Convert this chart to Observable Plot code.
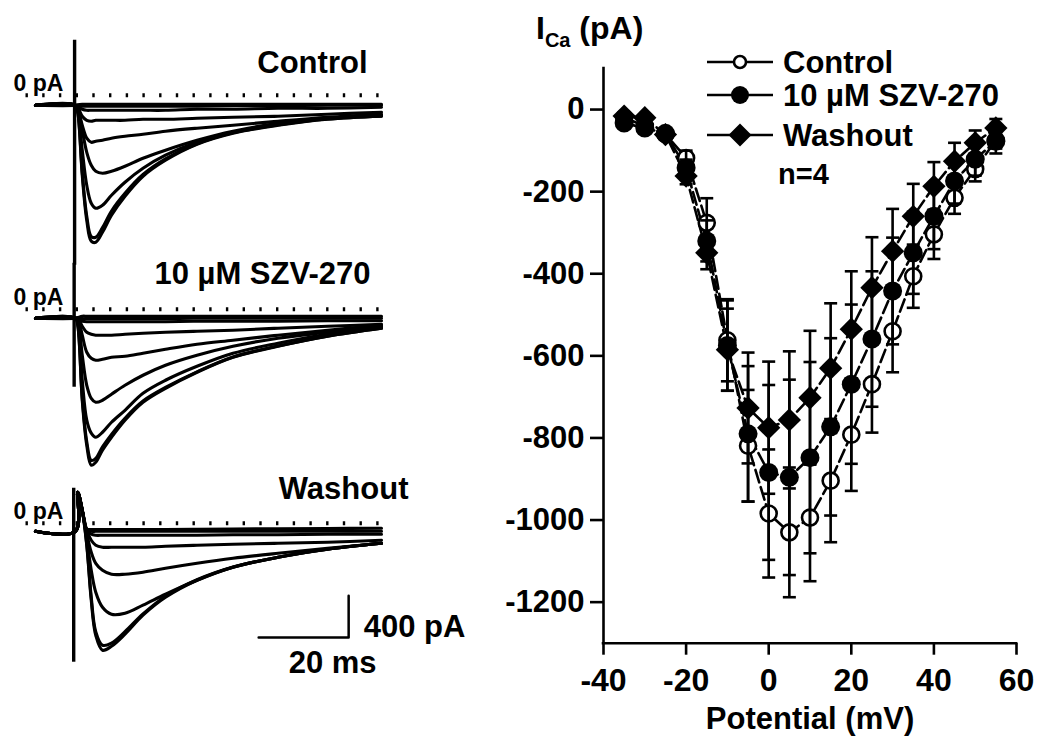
<!DOCTYPE html>
<html><head><meta charset="utf-8">
<script src="https://cdn.jsdelivr.net/npm/d3@7"></script>
<script src="https://cdn.jsdelivr.net/npm/@observablehq/plot@0.6"></script>
<style>
html,body{margin:0;padding:0;background:#fff;}
#fig{position:relative;width:1041px;height:740px;overflow:hidden;font-family:"Liberation Sans",Arial,Helvetica,sans-serif;font-weight:bold;color:#000;background:#fff;}
#left,#right{position:absolute;top:0;}
#left{left:0;} #right{left:480px;}
.lab{position:absolute;white-space:nowrap;line-height:1;font-weight:bold;}
.leg{position:absolute;}
</style></head><body>
<div id="fig">
  <div id="left"></div>
  <div id="right"></div>
  <div id="ytitle" class="lab" style="left:536px;top:12px;font-size:32px">I<span style="font-size:20px;position:relative;top:8px">Ca</span> (pA)</div>
  <div id="legend"></div>
</div>
<script>
// ---------- Left: current traces ----------
const panels = ["Control", "10 µM SZV-270", "Washout"];
const preStepTimes = [-8.9, 0];                  // ms
const traceTimes = [0.5, 1.5, 2.5, 3.5, 4.5, 6, 8, 11, 15, 20, 27, 35, 45, 56, 68]; // ms after step
const holdingCurrent = [-96, -86, -77];          // pA
const artifactTime = [-0.2, -0.3, -0.4];
const artifactTop = [527, 441, 336];
const artifactBottom = [-1630, -748, -1333];

const controlTraces = [
  [-163,-767,-1199,-1400,-1410,-1314,-1151,-969,-777,-623,-470,-364,-288,-230,-201],
  [-160,-740,-1160,-1355,-1362,-1270,-1110,-940,-760,-610,-465,-360,-285,-228,-200],
  [-144,-527,-863,-1036,-1084,-1055,-959,-834,-700,-575,-451,-355,-278,-221,-192],
  [-125,-336,-547,-671,-729,-748,-729,-681,-604,-527,-432,-345,-269,-221,-192],
  [-125,-288,-412,-451,-441,-432,-412,-393,-374,-345,-316,-288,-249,-211,-182],
  [-115,-201,-240,-249,-240,-240,-240,-240,-230,-230,-221,-211,-201,-182,-163],
  [-105,-134,-144,-144,-144,-144,-144,-144,-144,-144,-134,-134,-125,-125,-115],
  [-96,-105,-105,-105,-105,-105,-105,-105,-105,-105,-105,-100,-100,-96,-96],
  [-90,-86,-86,-86,-86,-86,-86,-86,-86,-86,-86,-86,-86,-86,-86]
];
const szvTraces = [
  [-153,-873,-1304,-1496,-1467,-1352,-1228,-1064,-892,-758,-604,-460,-355,-259,-182],
  [-150,-850,-1270,-1450,-1430,-1320,-1200,-1045,-880,-750,-600,-458,-353,-258,-182],
  [-125,-681,-1064,-1189,-1228,-1180,-1084,-969,-806,-681,-547,-422,-326,-240,-173],
  [-105,-441,-729,-854,-892,-873,-815,-729,-633,-537,-441,-355,-278,-221,-163],
  [-86,-249,-412,-470,-489,-479,-460,-451,-422,-384,-336,-297,-249,-201,-153],
  [-86,-163,-221,-240,-249,-249,-249,-240,-230,-221,-211,-201,-182,-163,-144],
  [-100,-115,-120,-120,-120,-120,-120,-120,-120,-120,-115,-115,-115,-110,-110],
  [-86,-90,-90,-90,-90,-90,-90,-90,-90,-90,-86,-86,-86,-86,-86],
  [-80,-67,-67,-67,-67,-67,-67,-67,-67,-67,-67,-67,-67,-67,-67]
];
const washoutTraces = [
  [297,125,-211,-738,-1074,-1218,-1180,-1064,-882,-710,-547,-422,-326,-249,-192],
  [297,125,-200,-710,-1040,-1170,-1150,-1040,-870,-700,-542,-420,-326,-249,-192],
  [297,125,-144,-451,-662,-806,-873,-863,-786,-681,-547,-422,-326,-249,-192],
  [297,125,-96,-278,-384,-451,-489,-489,-470,-432,-384,-336,-288,-240,-192],
  [297,125,-67,-163,-211,-230,-230,-230,-230,-221,-211,-201,-192,-182,-163],
  [297,125,-67,-105,-115,-115,-115,-115,-115,-115,-115,-110,-110,-105,-105],
  [297,125,-60,-77,-77,-77,-77,-77,-77,-77,-77,-77,-77,-77,-77],
  [297,125,-55,-60,-60,-60,-60,-60,-60,-60,-58,-55,-52,-50,-48]
];
const scaleBarTime = 40.7, scaleBarMs = 20, scaleBarCurrent = -1095, scaleBarPA = 400;

const traceSets = [controlTraces, szvTraces, washoutTraces];
const traceRows = traceSets.flatMap((set, p) => set.flatMap((vals, k) => [
  ...preStepTimes.map(t => ({panel: panels[p], id: p * 100 + k, t, i: holdingCurrent[p]})),
  ...traceTimes.map((t, j) => ({panel: panels[p], id: p * 100 + k, t, i: vals[j]}))
]));
const artifactRows = panels.map((panel, p) => ({panel, t: artifactTime[p], top: artifactTop[p], bottom: artifactBottom[p]}));
const scaleRows = [
  {panel: panels[2], t: scaleBarTime, i: scaleBarCurrent},
  {panel: panels[2], t: scaleBarTime + scaleBarMs, i: scaleBarCurrent},
  {panel: panels[2], t: scaleBarTime + scaleBarMs, i: scaleBarCurrent + scaleBarPA}
];
const font = '"Liberation Sans", Arial, Helvetica, sans-serif';

const left = Plot.plot({
  width: 480, height: 740,
  marginLeft: 25.5, marginRight: 90, marginTop: 34, marginBottom: 64,
  x: {domain: [-11, 70], axis: null},
  y: {domain: [-1470, 583], axis: null},
  fy: {domain: panels, axis: null, padding: 0},
  style: {fontFamily: font, fontWeight: "bold", background: "white", overflow: "visible"},
  marks: [
    Plot.ruleY([0], {stroke: "black", strokeWidth: 4, strokeDasharray: "2.4,14.3"}),
    Plot.line(traceRows, {x: "t", y: "i", z: "id", fy: "panel", curve: "catmull-rom", stroke: "black", strokeWidth: 3.1, strokeLinejoin: "round"}),
    Plot.ruleX(artifactRows, {x: "t", y1: "bottom", y2: "top", fy: "panel", stroke: "black", strokeWidth: 3.4}),
    Plot.line(scaleRows, {x: "t", y: "i", fy: "panel", stroke: "black", strokeWidth: 2.5}),
    Plot.text(panels, {fy: d => d, y: 0, text: () => "0 pA", frameAnchor: "left", textAnchor: "start", lineAnchor: "bottom", dx: -12.5, dy: -4, fontSize: 23}),
    Plot.text([panels[0]], {fy: d => d, text: d => d, frameAnchor: "top-right", textAnchor: "end", lineAnchor: "bottom", dx: -23, dy: 38, fontSize: 31}),
    Plot.text([panels[1]], {fy: d => d, text: d => d, frameAnchor: "top-right", textAnchor: "end", lineAnchor: "bottom", dx: -20, dy: 35, fontSize: 31}),
    Plot.text([panels[2]], {fy: d => d, text: d => d, frameAnchor: "top-right", textAnchor: "end", lineAnchor: "bottom", dx: 18, dy: 36, fontSize: 31}),
    Plot.text([scaleRows[1]], {fy: "panel", x: "t", y: "i", text: () => scaleBarPA + " pA", textAnchor: "start", lineAnchor: "bottom", dx: 15, fontSize: 31}),
    Plot.text([scaleRows[0]], {fy: "panel", x: d => d.t + scaleBarMs / 2, y: "i", text: () => scaleBarMs + " ms", textAnchor: "middle", lineAnchor: "bottom", dx: 29, dy: 36, fontSize: 31})
  ]
});
document.getElementById("left").appendChild(left);

// ---------- Right: I-V relationship ----------
const potentials = [-35,-30,-25,-20,-15,-10,-5,0,5,10,15,20,25,30,35,40,45,50,55]; // mV
const controlMean = [-20,-40,-60,-118,-276,-562,-819,-984,-1030,-994,-904,-792,-669,-540,-406,-304,-215,-145,-75];
const controlSem  = [8,10,12,18,60,100,136,156,158,155,150,137,118,100,77,60,39,30,20];
const szvMean = [-33,-45,-58,-142,-320,-575,-790,-884,-896,-848,-773,-669,-559,-442,-349,-260,-174,-121,-77];
const szvSem  = [8,10,10,20,50,110,165,213,238,233,216,194,165,130,100,80,55,40,30];
const washMean = [-16,-20,-61,-162,-349,-585,-727,-775,-756,-702,-630,-535,-434,-345,-260,-187,-126,-81,-45];
const washSem  = [6,8,10,20,40,100,135,161,167,163,158,141,123,103,79,59,45,30,22];
const seriesNames = ["Control", "10 µM SZV-270", "Washout"];
const xDomain = [-40, 60], yDomain = [-1300, 100];
const xTicks = [-40, -20, 0, 20, 40, 60];
const yTicks = [-1200, -1000, -800, -600, -400, -200, 0];

const means = [controlMean, szvMean, washMean], sems = [controlSem, szvSem, washSem];
const ivRows = seriesNames.flatMap((s, k) => potentials.map((v, j) => ({series: s, v, mean: means[k][j], sem: sems[k][j]})));
const ofSeries = k => ivRows.filter(d => d.series === seriesNames[k]);
const capSymbol = {draw(ctx, size) { const w = Math.sqrt(size / Math.PI); ctx.moveTo(-w, 0); ctx.lineTo(w, 0); }};

const right = Plot.plot({
  width: 561, height: 740,
  marginLeft: 123, marginRight: 25, marginTop: 68, marginBottom: 97.3,
  x: {domain: xDomain},
  y: {domain: yDomain},
  style: {fontFamily: font, fontWeight: "bold", background: "white", overflow: "visible"},
  marks: [
    Plot.ruleX([xDomain[0]], {stroke: "black", strokeWidth: 2.6, strokeLinecap: "square"}),
    Plot.ruleY([yDomain[0]], {stroke: "black", strokeWidth: 2.6, strokeLinecap: "square"}),
    Plot.axisX({ticks: xTicks, tickSize: 12, tickPadding: 13, strokeWidth: 2.6, fontSize: 32, fontWeight: "bold", tickFormat: d => String(d), label: null}),
    Plot.axisY({ticks: yTicks, tickSize: 13, tickPadding: 6, strokeWidth: 2.6, fontSize: 31, fontWeight: "bold", tickFormat: d => String(d), label: null}),
    Plot.text(["Potential (mV)"], {frameAnchor: "bottom", lineAnchor: "bottom", dy: 86, fontSize: 31}),
    Plot.line(ivRows, {x: "v", y: "mean", z: "series", stroke: "black", strokeWidth: 2.6, strokeDasharray: "13,5"}),
    Plot.dot(ofSeries(0), {x: "v", y: "mean", r: 8, fill: "white", stroke: "black", strokeWidth: 2.6}),
    Plot.ruleX(ivRows, {x: "v", y1: d => d.mean - d.sem, y2: d => d.mean + d.sem, stroke: "black", strokeWidth: 2.6}),
    Plot.dot(ivRows, {x: "v", y: d => d.mean - d.sem, symbol: capSymbol, r: 6.5, fill: "none", stroke: "black", strokeWidth: 2.6}),
    Plot.dot(ivRows, {x: "v", y: d => d.mean + d.sem, symbol: capSymbol, r: 6.5, fill: "none", stroke: "black", strokeWidth: 2.6}),
    Plot.dot(ofSeries(1), {x: "v", y: "mean", r: 9.5, fill: "black", stroke: "none"}),
    Plot.dot(ofSeries(2), {x: "v", y: "mean", r: 10.5, symbol: "diamond2", fill: "black", stroke: "none"})
  ]
});
document.getElementById("right").appendChild(right);

// ---------- Legend ----------
const legendRows = [
  {name: seriesNames[0], y: 62, kind: "open"},
  {name: seriesNames[1], y: 95, kind: "filled"},
  {name: seriesNames[2], y: 135, kind: "diamond"}
];
const legend = document.getElementById("legend");
const ns = "http://www.w3.org/2000/svg";
for (const row of legendRows) {
  const svg = document.createElementNS(ns, "svg");
  svg.setAttribute("width", 70); svg.setAttribute("height", 30);
  svg.setAttribute("class", "leg");
  svg.style.left = "705px"; svg.style.top = (row.y - 15) + "px";
  const ln = document.createElementNS(ns, "line");
  ln.setAttribute("x1", 2); ln.setAttribute("x2", 68); ln.setAttribute("y1", 15); ln.setAttribute("y2", 15);
  ln.setAttribute("stroke", "black"); ln.setAttribute("stroke-width", 2.6);
  svg.appendChild(ln);
  let m;
  if (row.kind === "diamond") {
    m = document.createElementNS(ns, "path");
    m.setAttribute("d", "M35,3.5L46.5,15L35,26.5L23.5,15Z"); m.setAttribute("fill", "black");
  } else {
    m = document.createElementNS(ns, "circle");
    m.setAttribute("cx", 35); m.setAttribute("cy", 15);
    if (row.kind === "open") { m.setAttribute("r", 6); m.setAttribute("fill", "white"); m.setAttribute("stroke", "black"); m.setAttribute("stroke-width", 2.6); }
    else { m.setAttribute("r", 9); m.setAttribute("fill", "black"); }
  }
  svg.appendChild(m);
  legend.appendChild(svg);
  const t = document.createElement("div");
  t.className = "lab"; t.textContent = row.name;
  t.style.left = "783px"; t.style.fontSize = "31px"; t.style.top = (row.y - 15.5) + "px";
  legend.appendChild(t);
}
const nText = document.createElement("div");
nText.className = "lab"; nText.textContent = "n=4";
nText.style.left = "778px"; nText.style.fontSize = "29px"; nText.style.top = "160px";
legend.appendChild(nText);
</script>
</body></html>
